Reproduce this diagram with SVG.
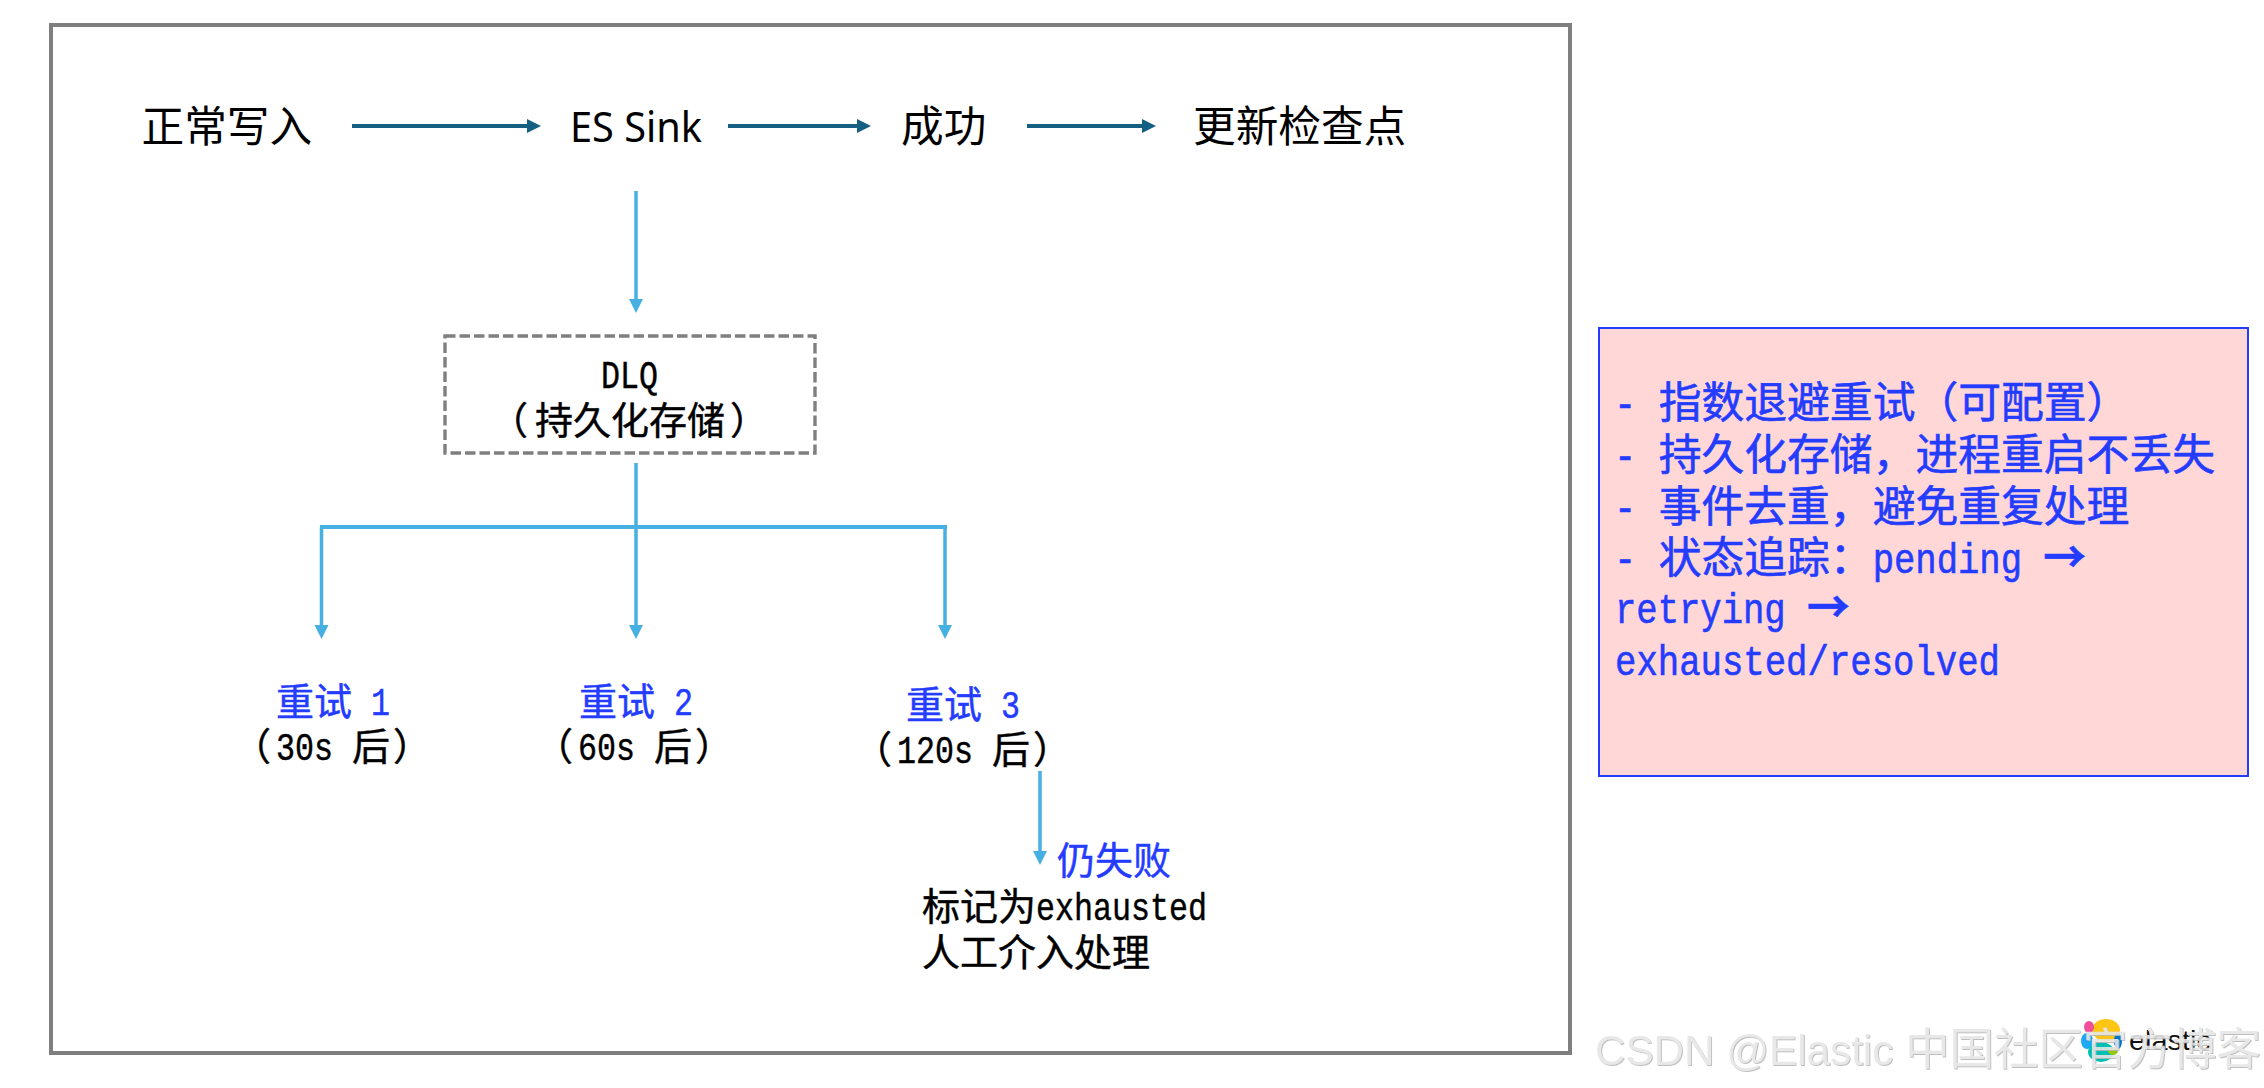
<svg xmlns="http://www.w3.org/2000/svg" width="2264" height="1088" viewBox="0 0 2264 1088">
<style>
text{font-family:"Noto Sans CJK SC","Liberation Sans",sans-serif;white-space:pre}
.t{font-size:42.67px;fill:#000}
.s{font-size:38px;fill:#000;stroke:#000;stroke-width:.45}
.b{fill:#243cff;stroke:#243cff}
.n{font-size:42.8px;fill:#243cff;stroke:#243cff;stroke-width:.6}
.m{font-family:"Liberation Mono","Noto Sans CJK SC",monospace}
.lat{font-family:"Noto Sans","Noto Sans CJK SC",sans-serif}
.arr{font-family:"Noto Sans CJK SC",sans-serif;font-weight:700}
.dk{stroke:#156082;stroke-width:4;fill:none}
.lt{stroke:#45b0e1;stroke-width:3.5;fill:none}
.wm{font-size:42.2px;fill:#e6e6e6;font-family:"Liberation Sans","Noto Sans CJK SC",sans-serif}
</style>
<defs>
<marker id="ad" markerUnits="userSpaceOnUse" markerWidth="15" markerHeight="15" refX="6" refY="7" orient="auto"><path d="M0 0L14 7L0 14Z" fill="#156082"/></marker>
<marker id="al" markerUnits="userSpaceOnUse" markerWidth="15" markerHeight="15" refX="6" refY="7" orient="auto"><path d="M0 0L14 7L0 14Z" fill="#45b0e1"/></marker>
<filter id="emboss" x="-2%" y="-10%" width="104%" height="120%"><feDropShadow dx="1" dy="1" stdDeviation=".4" flood-color="#b9b9b9"/></filter>
</defs>
<rect width="2264" height="1088" fill="#fff"/>
<rect id="frame" x="51" y="25" width="1519" height="1028" fill="#fff" stroke="#7f7f7f" stroke-width="4"/>
<g id="connectors">
<path class="dk" marker-end="url(#ad)" d="M352 126H533"/>
<path class="dk" marker-end="url(#ad)" d="M728 126H863"/>
<path class="dk" marker-end="url(#ad)" d="M1027 126H1148"/>
<path class="lt" marker-end="url(#al)" d="M636 191V305"/>
<path class="lt" marker-end="url(#al)" d="M636 463V631"/>
<path class="lt" style="stroke-width:4" d="M320 527H947"/>
<path class="lt" marker-end="url(#al)" d="M321.5 527V631"/>
<path class="lt" marker-end="url(#al)" d="M945 527V631"/>
<path class="lt" marker-end="url(#al)" d="M1040 771V857"/>
</g>
<g id="n-write"><text class="t" x="141.5" y="142">正常写入</text></g>
<g id="n-sink"><text class="t lat" x="570" y="142" textLength="132" lengthAdjust="spacingAndGlyphs">ES Sink</text></g>
<g id="n-ok"><text class="t" x="901" y="142">成功</text></g>
<g id="n-checkpoint"><text class="t" x="1193" y="142">更新检查点</text></g>
<g id="n-dlq">
<rect x="445" y="336" width="370" height="117" fill="none" stroke="#7f7f7f" stroke-width="3.4" stroke-dasharray="10.5 4"/>
<text class="s" x="601" y="388"><tspan class="m" textLength="57" lengthAdjust="spacingAndGlyphs">DLQ</tspan></text>
<text class="s" x="490" y="434">（<tspan dx="7">持久化存储</tspan><tspan dx="5">）</tspan></text>
</g>
<g id="n-retry1">
<text class="s b" x="276" y="715">重试<tspan class="m" textLength="38" lengthAdjust="spacingAndGlyphs"> 1</tspan></text>
<text class="s" x="233" y="760">（<tspan class="m" dx="5" textLength="76" lengthAdjust="spacingAndGlyphs">30s </tspan>后<tspan dx="3">）</tspan></text>
</g>
<g id="n-retry2">
<text class="s b" x="579" y="715">重试<tspan class="m" textLength="38" lengthAdjust="spacingAndGlyphs"> 2</tspan></text>
<text class="s" x="535" y="760">（<tspan class="m" dx="5" textLength="76" lengthAdjust="spacingAndGlyphs">60s </tspan>后<tspan dx="3">）</tspan></text>
</g>
<g id="n-retry3">
<text class="s b" x="906" y="718">重试<tspan class="m" textLength="38" lengthAdjust="spacingAndGlyphs"> 3</tspan></text>
<text class="s" x="854" y="763">（<tspan class="m" dx="5" textLength="95" lengthAdjust="spacingAndGlyphs">120s </tspan>后<tspan dx="3">）</tspan></text>
</g>
<g id="n-fail"><text class="s b" x="1057" y="874">仍失败</text></g>
<g id="n-exhausted">
<text class="s" x="922" y="920">标记为<tspan class="m" textLength="171" lengthAdjust="spacingAndGlyphs">exhausted</tspan></text>
<text class="s" x="922" y="966">人工介入处理</text>
</g>
<g id="n-notes">
<rect x="1599" y="328" width="649" height="448" fill="#ffd7d7" stroke="#243cff" stroke-width="2"/>
<text class="n" x="1614" y="418"><tspan class="m" textLength="44.67" lengthAdjust="spacingAndGlyphs">- </tspan>指数退避重试（可配置）</text>
<text class="n" x="1614" y="470"><tspan class="m" textLength="44.67" lengthAdjust="spacingAndGlyphs">- </tspan>持久化存储，进程重启不丢失</text>
<text class="n" x="1614" y="522"><tspan class="m" textLength="44.67" lengthAdjust="spacingAndGlyphs">- </tspan>事件去重，避免重复处理</text>
<text class="n" x="1614" y="573"><tspan class="m" textLength="44.67" lengthAdjust="spacingAndGlyphs">- </tspan>状态追踪：<tspan class="m" textLength="170.67" lengthAdjust="spacingAndGlyphs">pending </tspan><tspan class="arr">→</tspan></text>
<text class="n" x="1615" y="623"><tspan class="m" textLength="192" lengthAdjust="spacingAndGlyphs">retrying </tspan><tspan class="arr">→</tspan></text>
<text class="n m" x="1615" y="675" textLength="385" lengthAdjust="spacingAndGlyphs">exhausted/resolved</text>
</g>
<g id="logo">
<ellipse cx="2106" cy="1030" rx="14" ry="11" fill="#fec514"/>
<ellipse cx="2089" cy="1027" rx="5" ry="6" fill="#f04e98"/>
<ellipse cx="2087" cy="1041" rx="6" ry="8" fill="#1ba9f5"/>
<ellipse cx="2118" cy="1041" rx="4" ry="8" fill="#0077cc"/>
<ellipse cx="2101" cy="1052" rx="13" ry="10" fill="#00bfb3"/>
<ellipse cx="2113" cy="1051" rx="5" ry="4" fill="#93c90e"/>
<text x="2129" y="1050" font-size="28" style="font-family:'Liberation Sans',sans-serif" textLength="82" lengthAdjust="spacingAndGlyphs" fill="#111">elastic</text>
</g>
<text id="watermark" class="wm" x="1595" y="1065" opacity=".9" filter="url(#emboss)">CSDN @Elastic <tspan font-size="44.5">中国社区官方博客</tspan></text>
</svg>
